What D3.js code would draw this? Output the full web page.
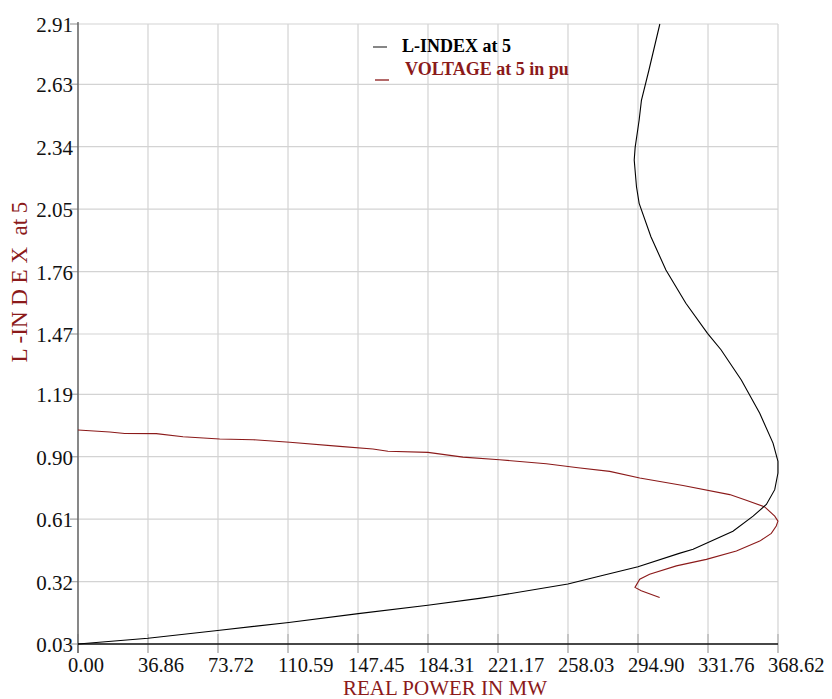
<!DOCTYPE html>
<html>
<head>
<meta charset="utf-8">
<script src="https://cdn.jsdelivr.net/npm/d3@7"></script>
<style>
  html, body { margin: 0; padding: 0; background: #fff; }
  svg { display: block; }
  text { font-family: "Liberation Serif", "Times New Roman", serif; }
</style>
</head>
<body>
<svg id="chart" width="832" height="699"></svg>
<script>
// ---- data ----
const xTickLabels = ["0.00","36.86","73.72","110.59","147.45","184.31","221.17","258.03","294.90","331.76","368.62"];
const yTickLabels = ["0.03","0.32","0.61","0.90","1.19","1.47","1.76","2.05","2.34","2.63","2.91"];

// L-INDEX at 5 (black): real power (MW) vs value
const lIndexPower = [0, 36.86, 73.5, 111.0, 147.6, 184.2, 211.4, 221.4, 258.0, 275.0, 294.9, 316.6, 323.9, 344.9, 355.5, 362.5, 366.9, 368.6, 368.6, 366.0, 359.0, 349.3, 338.6, 331.5, 320.1, 309.6, 301.7, 295.5, 294.1, 292.9, 293.4, 295.5, 296.7, 300.6, 306.4];
const lIndexValue = [0.03, 0.057, 0.093, 0.130, 0.171, 0.210, 0.242, 0.255, 0.309, 0.346, 0.389, 0.451, 0.470, 0.554, 0.624, 0.678, 0.747, 0.824, 0.878, 0.963, 1.102, 1.256, 1.397, 1.473, 1.613, 1.767, 1.922, 2.077, 2.154, 2.278, 2.337, 2.464, 2.555, 2.694, 2.91];

// VOLTAGE at 5 in pu (dark red)
const voltagePower = [0, 16.7, 24.6, 41.2, 55.3, 74.6, 92.2, 111.5, 137.8, 155.3, 163.2, 184.3, 202.7, 222.0, 246.6, 263.3, 280.0, 295.8, 318.6, 343.2, 351.9, 361.6, 366.9, 368.6, 367.7, 365.1, 359.0, 346.7, 330.9, 315.1, 301.0, 295.8, 293.3, 296.6, 306.3];
const voltageValue = [1.024, 1.015, 1.008, 1.007, 0.993, 0.982, 0.979, 0.967, 0.948, 0.936, 0.925, 0.920, 0.898, 0.886, 0.867, 0.849, 0.832, 0.801, 0.766, 0.724, 0.698, 0.667, 0.624, 0.601, 0.578, 0.544, 0.508, 0.462, 0.423, 0.393, 0.354, 0.331, 0.293, 0.277, 0.246];

const legendLabels = ["L-INDEX at 5", "VOLTAGE at 5 in pu"];
const seriesColors = ["#000000", "#8b1a1a"];

// ---- layout ----
const svg = d3.select("#chart");
const pL = 78, pR = 778, pT = 24, pB = 644;
const x = d3.scaleLinear().domain([0, 368.62]).range([pL, pR]);
const y = d3.scaleLinear().domain([0.03, 2.91]).range([pB, pT]);

const xTicks = xTickLabels.map(Number);
const yTicks = yTickLabels.map(Number);

// grid
const grid = svg.append("g");
grid.selectAll("line.v").data(xTicks).enter().append("line")
  .attr("x1", d => x(d)).attr("x2", d => x(d))
  .attr("y1", pT).attr("y2", pB + 9)
  .attr("stroke", "#d3d3d3").attr("stroke-width", 1.2);
grid.selectAll("line.h").data(yTicks).enter().append("line")
  .attr("x1", pL - 8).attr("x2", pR)
  .attr("y1", d => y(d)).attr("y2", d => y(d))
  .attr("stroke", "#d3d3d3").attr("stroke-width", 1.2);

// darker tick stubs
svg.append("g").selectAll("line").data(xTicks).enter().append("line")
  .attr("x1", d => x(d)).attr("x2", d => x(d))
  .attr("y1", pB - 10).attr("y2", pB + 9)
  .attr("stroke", "#b0b0b0").attr("stroke-width", 1.2);
svg.append("g").selectAll("line").data(yTicks).enter().append("line")
  .attr("x1", pL - 8).attr("x2", pL)
  .attr("y1", d => y(d)).attr("y2", d => y(d))
  .attr("stroke", "#b0b0b0").attr("stroke-width", 1.2);

// axes lines
svg.append("line").attr("x1", pL).attr("x2", pL).attr("y1", pT - 2).attr("y2", pB + 9)
  .attr("stroke", "#555").attr("stroke-width", 1.3);
svg.append("line").attr("x1", pL).attr("x2", pR).attr("y1", pB).attr("y2", pB)
  .attr("stroke", "#111").attr("stroke-width", 1.3);

// tick labels
svg.append("g").selectAll("text").data(xTickLabels).enter().append("text")
  .attr("x", d => x(+d) - 10).attr("y", 672)
  .attr("font-size", 20.5).attr("fill", "#111")
  .text(d => d);
svg.append("g").selectAll("text").data(yTickLabels).enter().append("text")
  .attr("x", pL - 5).attr("y", d => y(+d) + 8)
  .attr("text-anchor", "end")
  .attr("font-size", 21).attr("fill", "#111")
  .text(d => d);

// axis titles
svg.append("text")
  .attr("transform", "translate(27,282) rotate(-90)")
  .attr("text-anchor", "middle")
  .attr("font-size", 23).attr("fill", "#8b1a1a")
  .attr("xml:space", "preserve")
  .style("white-space", "pre")
  .text("L -IN D E X  at 5");
svg.append("text")
  .attr("x", 445).attr("y", 695)
  .attr("text-anchor", "middle")
  .attr("font-size", 21).attr("fill", "#8b1a1a")
  .text("REAL POWER IN MW");

// curves
const line = d3.line().x(d => x(d[0])).y(d => y(d[1]));
const lIndexPts = lIndexPower.map((p, i) => [p, lIndexValue[i]]);
const voltagePts = voltagePower.map((p, i) => [p, voltageValue[i]]);
svg.append("path").datum(voltagePts).attr("d", line)
  .attr("fill", "none").attr("stroke", seriesColors[1]).attr("stroke-width", 1.1);
svg.append("path").datum(lIndexPts).attr("d", line)
  .attr("fill", "none").attr("stroke", seriesColors[0]).attr("stroke-width", 1.1);

// legend
const legY = [47, 80];
const legTextY = [52, 75];
const legX0 = [373, 375];
legendLabels.forEach((lab, i) => {
  svg.append("line").attr("x1", legX0[i]).attr("x2", legX0[i] + 14)
    .attr("y1", legY[i]).attr("y2", legY[i])
    .attr("stroke", i === 0 ? "#444" : seriesColors[1]).attr("stroke-width", 1.3);
  svg.append("text").attr("x", i === 0 ? 402 : 405).attr("y", legTextY[i])
    .attr("font-size", 18).attr("font-weight", "bold")
    .attr("fill", i === 0 ? "#000" : seriesColors[1])
    .text(lab);
});
</script>
</body>
</html>
